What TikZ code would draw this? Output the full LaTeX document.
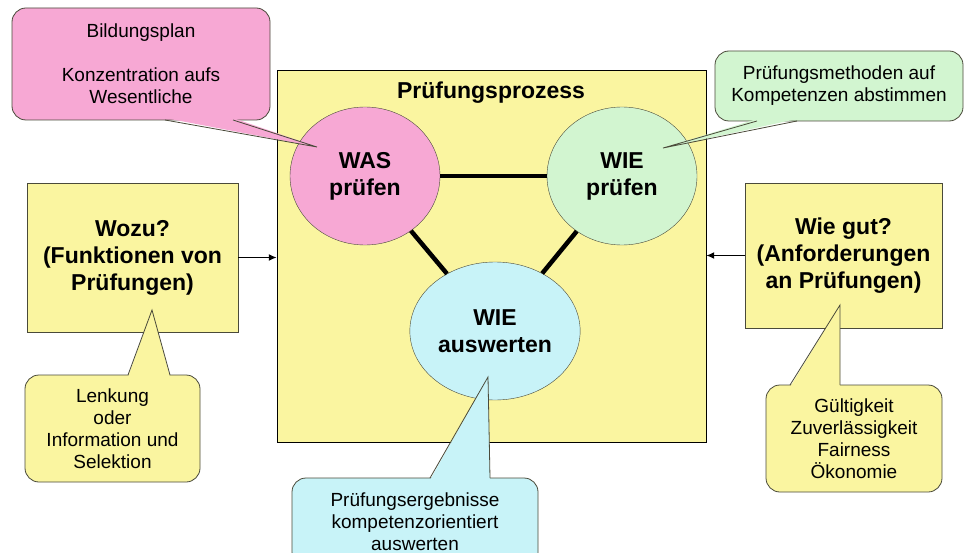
\documentclass[tikz,border=0pt]{standalone}
\usepackage{fontspec}
\setmainfont{Liberation Sans}
\usetikzlibrary{shapes.geometric,arrows.meta}

\definecolor{gelb}{HTML}{FAF5A0}
\definecolor{rosa}{HTML}{F7A8D4}
\definecolor{gruen}{HTML}{D2F5D0}
\definecolor{cyan}{HTML}{C8F3F8}
\definecolor{rand}{HTML}{4A4A3A}

\tikzset{
    kasten/.style={draw=rand, fill=gelb, align=center, font=\fontsize{23}{27}\selectfont\bfseries},
    kreis/.style={ellipse, draw=rand, minimum width=150pt, minimum height=138pt, align=center, font=\fontsize{23}{27}\selectfont\bfseries},
    blase/.style={draw=rand, line width=0.8pt, rounded corners=14pt, align=center, font=\fontsize{19}{22}\selectfont},
    verbindung/.style={line width=4.5pt},
    pfeil/.style={-{Latex[length=8pt,width=7pt]}, line width=1.6pt}
}

\begin{document}
\begin{tikzpicture}[x=1pt, y=-1pt]
            \useasboundingbox (0,0) rectangle (965,553);
            \fill[white] (0,0) rectangle (965,553);

            % Prozess in der Mitte
            \node[draw=black, fill=gelb, minimum width=429pt, minimum height=372pt] (haupt) at (491.5,256) {};
            \node[font=\fontsize{23}{27}\selectfont\bfseries] (titel) at (491,93) {Prüfungsprozess};

            \node[kreis, fill=rosa] (was) at (365,176) {WAS\\prüfen};
            \node[kreis, fill=gruen] (wiepruefen) at (622,176) {WIE\\prüfen};
            \node[kreis, fill=cyan] (auswerten) at (495,331) {WIE\\auswerten};

            \draw[verbindung] (was) -- (wiepruefen);
            \draw[verbindung] (was) -- (auswerten);
            \draw[verbindung] (wiepruefen) -- (auswerten);

            % Kasten links und rechts
            \node[kasten, minimum width=211pt, minimum height=149pt] (wozu) at (132.5,257.5) {Wozu?\\(Funktionen von\\Prüfungen)};
            \node[kasten, minimum width=197pt, minimum height=145pt] (wiegut) at (843.5,255.5) {Wie gut?\\(Anforderungen\\an Prüfungen)};

            \draw[pfeil] (wozu.east) -- (wozu.east -| haupt.west);
            \draw[pfeil] (wiegut.west) -- (wiegut.west -| haupt.east);

            % Sprechblasen
            \node[blase, fill=rosa, minimum width=258pt, minimum height=112pt] (bildung) at (141,64) {Bildungsplan\\[22pt]Konzentration aufs\\Wesentliche};
            \node[blase, fill=gruen, minimum width=248pt, minimum height=70pt] (methoden) at (839,86) {Prüfungsmethoden auf\\Kompetenzen abstimmen};
            \node[blase, fill=gelb, minimum width=175pt, minimum height=107pt] (lenkung) at (112.5,428.5) {Lenkung\\oder\\Information und\\Selektion};
            \node[blase, fill=gelb, minimum width=176pt, minimum height=107pt] (kriterien) at (854,438.5) {Gültigkeit\\Zuverlässigkeit\\Fairness\\Ökonomie};
            \node[blase, fill=cyan, minimum width=246pt, minimum height=88pt] (ergebnis) at (415,522) {Prüfungsergebnisse\\kompetenzorientiert\\auswerten};

            \coordinate (bildung-a) at (165,120);
            \coordinate (bildung-b) at (233,120);
            \coordinate (bildung-tip) at (317,147);
            \coordinate (methoden-a) at (757,121);
            \coordinate (methoden-b) at (797,121);
            \coordinate (methoden-tip) at (663,148);
            \coordinate (lenkung-a) at (128,375);
            \coordinate (lenkung-b) at (170,375);
            \coordinate (lenkung-tip) at (152,310);
            \coordinate (kriterien-a) at (790,385);
            \coordinate (kriterien-b) at (840,385);
            \coordinate (kriterien-tip) at (840,305);
            \coordinate (ergebnis-a) at (430,478);
            \coordinate (ergebnis-b) at (490,478);
            \coordinate (ergebnis-tip) at (488,377);

            \foreach \n/\c/\s in {bildung/rosa/2, methoden/gruen/2, lenkung/gelb/-2, kriterien/gelb/-2, ergebnis/cyan/-2} {
                \fill[\c] ([yshift=\s pt]\n-a) -- (\n-tip) -- ([yshift=\s pt]\n-b) -- cycle;
                \draw[rand, line width=0.8pt] (\n-a) -- (\n-tip) -- (\n-b);
            }
        \end{tikzpicture}
\end{document}
